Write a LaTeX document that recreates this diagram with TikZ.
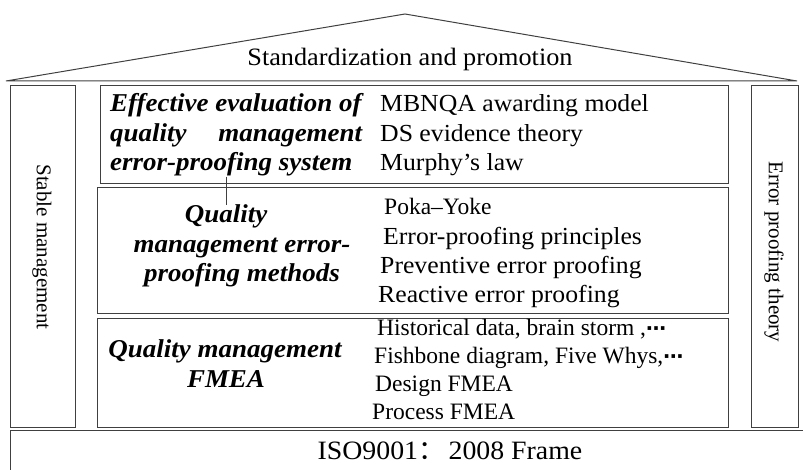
\documentclass[tikz,border=0pt]{standalone}
\usepackage{fontspec}
\setmainfont{Liberation Serif}[FakeStretch=1.05]
\newfontfamily\plainfont{Liberation Serif}
\newfontfamily\cjk{Noto Sans CJK SC}
\newfontfamily\symfont{DejaVu Sans}
\newcommand{\dotsmid}{{\symfont\bfseries\fontsize{20}{22}\selectfont ⋯}}
\begin{document}
\begin{tikzpicture}[x=1pt,y=-1pt,
  frame/.style={draw=black!75, line width=1pt},
  txt/.style={inner sep=0pt, anchor=base west, font=\fontsize{24.5}{29}\selectfont},
  small/.style={inner sep=0pt, anchor=base west, font=\plainfont\fontsize{23.5}{27}\selectfont},
  ttl/.style={inner sep=0pt, anchor=base, font=\fontsize{25.7}{30}\selectfont\bfseries\itshape},
  pillar/.style={inner sep=0pt, rotate=-90, font=\plainfont\fontsize{21}{24}\selectfont}]
\useasboundingbox (0,0) rectangle (803,470);
% roof
\draw[frame] (6,81) -- (405,14) -- (797,81) -- cycle;
\node[inner sep=0pt, anchor=base, font=\fontsize{25}{28}\selectfont] (roof) at (410,66) {Standardization and promotion};
% pillars
\draw[frame] (10,86) rectangle (75,427);
\draw[frame] (751,86) rectangle (798,427);
\node[pillar] (stable) at (42,247) {Stable management};
\node[pillar] (theory) at (774,252) {Error proofing theory};
% inner boxes
\draw[frame] (100,86) rectangle (728,184);
\draw[frame] (97,188) rectangle (728,313);
\draw[frame] (97,318) rectangle (728,427);
% base
\draw[frame] (10,472) -- (10,430) -- (810,430);
\node[inner sep=0pt, anchor=base, font=\fontsize{26.5}{29}\selectfont] (iso) at (450,459) {ISO9001{\cjk ：}\hspace{4pt}2008 Frame};
% top box
\node[ttl, anchor=base west] (t1) at (110,112) {Effective evaluation of};
\node[ttl, anchor=base west] (t2) at (110,142) {\makebox[252pt][s]{quality management}};
\node[ttl, anchor=base west] (t3) at (110,171) {error-proofing system};
\node[txt] (a1) at (380,112) {MBNQA awarding model};
\node[txt] (a2) at (380,142) {DS evidence theory};
\node[txt] (a3) at (380,171) {Murphy’s law};
% middle box
\node[ttl] (m1) at (226,223) {Quality};
\node[ttl] (m2) at (242,253) {management error-};
\node[ttl] (m3) at (242,282) {proofing methods};
\node[txt, font=\plainfont\fontsize{23.5}{26}\selectfont] (b1) at (384,215) {Poka–Yoke};
\node[txt] (b2) at (383,245) {Error-proofing principles};
\node[txt] (b3) at (380,274) {Preventive error proofing};
\node[txt] (b4) at (378,302) {Reactive error proofing};
% bottom box
\node[ttl] (f1) at (225,357) {Quality management};
\node[ttl] (f2) at (226,387) {FMEA};
\node[small] (c1) at (377,335) {Historical data, brain storm ,\dotsmid};
\node[small] (c2) at (374,363) {Fishbone diagram, Five Whys,\dotsmid};
\node[small] (c3) at (375,391) {Design FMEA};
\node[small] (c4) at (372,419) {Process FMEA};
% connector
\draw[black!75, line width=1pt] (t3.south -| m1.north) -- (m1.north);
\end{tikzpicture}
\end{document}
